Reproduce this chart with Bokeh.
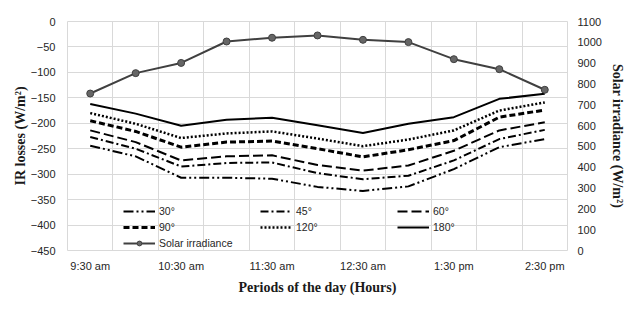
from bokeh.plotting import figure
from bokeh.models import (Range1d, LinearAxis, FixedTicker, SingleIntervalTicker,
                          Legend, LegendItem)
from bokeh.embed import file_html
from bokeh.resources import INLINE

# ---- data ----
categories = ["9:30 am", "10:00 am", "10:30 am", "11:00 am", "11:30 am", "12:00 pm",
              "12:30 am", "1:00 pm", "1:30 pm", "2:00 pm", "2:30 pm"]
tick_labels = ["9:30 am", "10:30 am", "11:30 am", "12:30 am", "1:30 pm", "2:30 pm"]

ir_30 = [-244, -265, -307, -307, -309, -325, -333, -324, -290, -247, -231]
ir_45 = [-227, -250, -285, -278, -277, -298, -310, -303, -273, -231, -213]
ir_60 = [-214, -237, -273, -265, -263, -282, -293, -283, -254, -214, -198]
ir_90 = [-195, -216, -247, -237, -235, -250, -266, -252, -234, -188, -174]
ir_120 = [-180, -201, -229, -220, -216, -230, -245, -232, -214, -175, -159]
ir_180 = [-162, -181, -205, -193, -189, -204, -219, -201, -188, -152, -142]
solar = [754, 852, 901, 1004, 1022, 1033, 1012, 1001, 919, 871, 772]

x = [i + 0.5 for i in range(len(categories))]

p = figure(width=644, height=310, output_backend="svg", toolbar_location=None,
           x_range=Range1d(0, len(categories)), y_range=Range1d(-450, 0),
           min_border_left=67, min_border_right=77, min_border_top=21, min_border_bottom=60)
p.extra_y_ranges = {"solar": Range1d(0, 1100)}
p.outline_line_color = "#d9d9d9"
p.background_fill_color = "white"
p.border_fill_color = "white"

tick_font = "Liberation Sans"
tick_color = "#262626"

# x axis
p.xaxis.ticker = FixedTicker(ticks=[x[i] for i in range(0, len(categories), 2)])
p.xaxis.major_label_overrides = {x[i]: lab for i, lab in zip(range(0, len(categories), 2), tick_labels)}
p.xaxis.axis_label = "Periods of the day (Hours)"
p.xgrid.ticker = FixedTicker(ticks=list(range(len(categories) + 1)))

# left axis
p.yaxis.ticker = SingleIntervalTicker(interval=50)
p.yaxis.axis_label = "IR losses (W/m²)"

# right axis
ax_r = LinearAxis(y_range_name="solar", ticker=SingleIntervalTicker(interval=100),
                  axis_label="Solar irradiance (W/m²)")
p.add_layout(ax_r, "right")

for ax in [p.xaxis[0], p.yaxis[0], ax_r]:
    ax.axis_line_color = None
    ax.major_tick_line_color = None
    ax.minor_tick_line_color = None
    ax.major_tick_out = 0
    ax.major_tick_in = 0
    ax.minor_tick_out = 0
    ax.major_label_text_font = tick_font
    ax.major_label_text_font_size = "11px"
    ax.major_label_text_color = tick_color
    ax.axis_label_text_font = "Liberation Serif"
    ax.axis_label_text_font_style = "bold"
    ax.axis_label_text_font_size = "14px"
    ax.axis_label_text_color = "#1a1a1a"

p.xaxis.major_label_standoff = 9
p.xaxis.axis_label_standoff = 5
p.yaxis.major_label_standoff = 12
p.yaxis.axis_label_standoff = 0
ax_r.major_label_standoff = 10
ax_r.axis_label_standoff = 5

p.xgrid.grid_line_color = "#d9d9d9"
p.ygrid.grid_line_color = "#d9d9d9"

# series
r30 = p.line(x, ir_30, line_color="black", line_width=2, line_dash="10 3 2 3 2 3")
r45 = p.line(x, ir_45, line_color="black", line_width=2, line_dash="8 3 2 3")
r60 = p.line(x, ir_60, line_color="black", line_width=2, line_dash="10 4")
r90 = p.line(x, ir_90, line_color="black", line_width=3, line_dash="6 3")
r120 = p.line(x, ir_120, line_color="black", line_width=2.5, line_dash="2 2")
r180 = p.line(x, ir_180, line_color="black", line_width=2)
rs = p.line(x, solar, y_range_name="solar", line_color="#404040", line_width=2)
rm = p.scatter(x, solar, y_range_name="solar", size=7, fill_color="#666666",
               line_color="#404040", line_width=1)


def make_legend(items, loc):
    lg = Legend(items=items, location=loc, orientation="vertical",
                padding=0, margin=0, spacing=4, glyph_width=32, glyph_height=12,
                label_height=12, label_standoff=4,
                label_text_font=tick_font, label_text_font_size="10.5px",
                label_text_color=tick_color,
                border_line_color=None, background_fill_alpha=0)
    p.add_layout(lg, "center")
    return lg


make_legend([LegendItem(label="30°", renderers=[r30]),
             LegendItem(label="90°", renderers=[r90]),
             LegendItem(label="Solar irradiance", renderers=[rs, rm])], (56, 1))
make_legend([LegendItem(label="45°", renderers=[r45]),
             LegendItem(label="120°", renderers=[r120])], (193, 17))
make_legend([LegendItem(label="60°", renderers=[r60]),
             LegendItem(label="180°", renderers=[r180])], (330, 17))

open("out.html", "w").write(file_html(p, INLINE))
